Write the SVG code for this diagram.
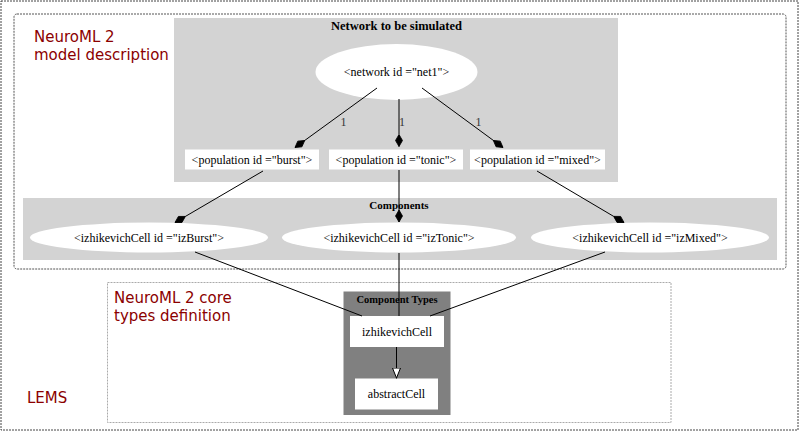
<svg xmlns="http://www.w3.org/2000/svg" width="800" height="431" viewBox="0 0 800 431">
<style>
.lbl{font-family:"DejaVu Sans",sans-serif;font-size:15px;fill:#8b0000}
.nt{font-family:"Liberation Serif",serif;font-size:12px;fill:#000;text-anchor:middle}
.ttl{font-family:"Liberation Serif",serif;font-weight:bold;fill:#000;text-anchor:middle}
.node{fill:#fff;stroke:none}
.edge{stroke:#000;stroke-width:1;fill:none}
.elbl{font-family:"Liberation Serif",serif;font-size:12px;fill:#333;text-anchor:middle}
</style>
<defs>
<marker id="dia" markerUnits="userSpaceOnUse" markerWidth="14" markerHeight="10" viewBox="0 -5 14 10" refX="12" refY="0" orient="auto">
<path d="M0,0 L6,-3.5 L12,0 L6,3.5 z" fill="#000" stroke="#000" stroke-width="0.8"/>
</marker>
<marker id="tri" markerUnits="userSpaceOnUse" markerWidth="14" markerHeight="12" viewBox="0 -6 14 12" refX="11" refY="0" orient="auto">
<path d="M0.5,-4 L10.5,0 L0.5,4 z" fill="#fff" stroke="#000" stroke-width="1"/>
</marker>
</defs>
<rect width="800" height="431" fill="#fff"/>
<g id="lems">
<rect x="1" y="1" width="797" height="429" fill="none" stroke="#444" stroke-dasharray="2,1"/>
<text class="lbl" x="27" y="403">LEMS</text>
</g>
<g id="model-description">
<rect x="14" y="14" width="772" height="255" rx="3" fill="none" stroke="#555" stroke-dasharray="2,1"/>
<text class="lbl" x="34" y="42">NeuroML 2</text>
<text class="lbl" x="34" y="60">model description</text>
</g>
<g id="core-types">
<rect x="107.5" y="282.5" width="563.5" height="140" fill="none" stroke="#aaa" stroke-dasharray="2,1"/>
<text class="lbl" x="114" y="303">NeuroML 2 core</text>
<text class="lbl" x="114" y="321">types definition</text>
</g>
<g id="cluster-network">
<rect x="174" y="18" width="444" height="164" fill="#d3d3d3"/>
<text class="ttl" x="396.5" y="30" font-size="12.5">Network to be simulated</text>
</g>
<g id="cluster-components">
<rect x="23" y="198" width="754" height="62" fill="#d3d3d3"/>
<text class="ttl" x="399" y="209" font-size="11">Components</text>
</g>
<g id="cluster-component-types">
<rect x="343.5" y="291.5" width="107" height="123.5" fill="#808080"/>
<text class="ttl" x="397" y="303" font-size="10.5">Component Types</text>
</g>
<g id="net1">
<ellipse class="node" cx="396.5" cy="72" rx="81" ry="28"/>
<text class="nt" x="396.5" y="76">&lt;network id ="net1"&gt;</text>
</g>
<g id="burst">
<rect class="node" x="185" y="149.5" width="134" height="20"/>
<text class="nt" x="252" y="163.5" font-size="11.5">&lt;population id ="burst"&gt;</text>
</g>
<g id="tonic">
<rect class="node" x="329" y="149.5" width="134" height="20"/>
<text class="nt" x="396" y="163.5" font-size="11.5">&lt;population id ="tonic"&gt;</text>
</g>
<g id="mixed">
<rect class="node" x="470" y="149.5" width="135" height="20"/>
<text class="nt" x="537.5" y="163.5" font-size="11.5">&lt;population id ="mixed"&gt;</text>
</g>
<g id="izBurst">
<ellipse class="node" cx="149" cy="237.5" rx="119" ry="15"/>
<text class="nt" x="149" y="241.5">&lt;izhikevichCell id ="izBurst"&gt;</text>
</g>
<g id="izTonic">
<ellipse class="node" cx="399" cy="237.5" rx="117" ry="15"/>
<text class="nt" x="399" y="241.5">&lt;izhikevichCell id ="izTonic"&gt;</text>
</g>
<g id="izMixed">
<ellipse class="node" cx="650" cy="237.5" rx="119" ry="15"/>
<text class="nt" x="650" y="241.5">&lt;izhikevichCell id ="izMixed"&gt;</text>
</g>
<g id="izhikevichCell">
<rect class="node" x="350" y="316" width="94" height="31"/>
<text class="nt" x="397" y="335.5">izhikevichCell</text>
</g>
<g id="abstractCell">
<rect class="node" x="355" y="378.5" width="83" height="31"/>
<text class="nt" x="396.5" y="398">abstractCell</text>
</g>
<g id="connectors">
<line class="edge" x1="377" y1="88" x2="295" y2="147.5" marker-end="url(#dia)"/>
<line class="edge" x1="399" y1="99" x2="399" y2="146.5" marker-end="url(#dia)"/>
<line class="edge" x1="422" y1="88" x2="503" y2="147.5" marker-end="url(#dia)"/>
<text class="elbl" x="343.5" y="126">1</text>
<text class="elbl" x="402" y="126">1</text>
<text class="elbl" x="478.5" y="126">1</text>
<line class="edge" x1="263" y1="171" x2="175" y2="222.5" marker-end="url(#dia)"/>
<line class="edge" x1="399" y1="170" x2="399" y2="222" marker-end="url(#dia)"/>
<line class="edge" x1="537" y1="171" x2="624" y2="222.5" marker-end="url(#dia)"/>
<line class="edge" x1="195" y1="252" x2="362" y2="316"/>
<line class="edge" x1="399" y1="253" x2="399" y2="316"/>
<line class="edge" x1="605" y1="252" x2="430" y2="316"/>
<line class="edge" x1="396.5" y1="347" x2="396.5" y2="378.5" marker-end="url(#tri)"/>
</g>
</svg>
